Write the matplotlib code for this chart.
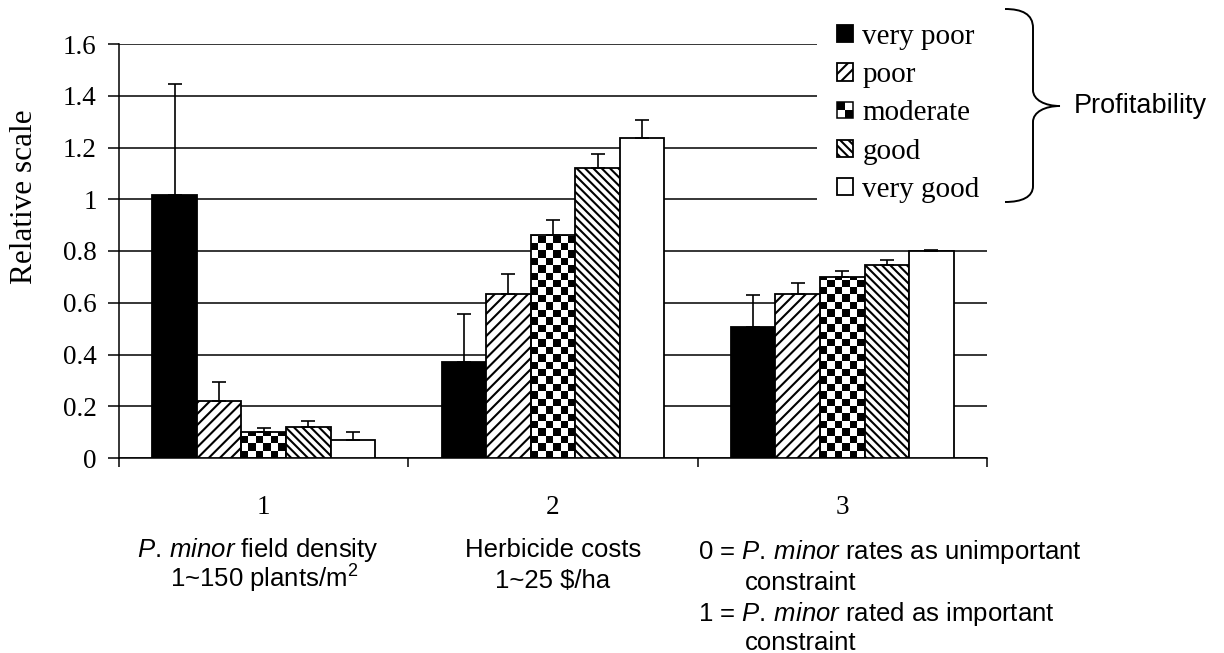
import numpy as np
import matplotlib
matplotlib.use("Agg")
import matplotlib.pyplot as plt
import matplotlib.transforms as mtransforms
from matplotlib.patches import Rectangle, PathPatch
from matplotlib.path import Path
from matplotlib.legend_handler import HandlerBase
from matplotlib.colors import ListedColormap

# ---- data -------------------------------------------------------------
categories = ["1", "2", "3"]
levels = ["very poor", "poor", "moderate", "good", "very good"]

very_poor = [1.015, 0.37, 0.505]
poor = [0.22, 0.635, 0.635]
moderate = [0.10, 0.86, 0.70]
good = [0.12, 1.12, 0.745]
very_good = [0.07, 1.235, 0.80]

err_very_poor = [0.43, 0.185, 0.125]
err_poor = [0.075, 0.075, 0.04]
err_moderate = [0.017, 0.06, 0.022]
err_good = [0.022, 0.055, 0.02]
err_very_good = [0.031, 0.07, 0.005]

ytick_values = [0, 0.2, 0.4, 0.6, 0.8, 1.0, 1.2, 1.4, 1.6]
ytick_labels = ["0", "0.2", "0.4", "0.6", "0.8", "1", "1.2", "1.4", "1.6"]

# ---- style ------------------------------------------------------------
plt.rcParams["font.family"] = ["Liberation Serif", "DejaVu Serif"]
plt.rcParams["mathtext.fontset"] = "custom"
plt.rcParams["mathtext.rm"] = "Liberation Sans"
plt.rcParams["mathtext.it"] = "Liberation Sans:italic"
plt.rcParams["hatch.linewidth"] = 1.5

W, H = 1224, 653
fig = plt.figure(figsize=(W / 100, H / 100), dpi=100)
ax = fig.add_axes([119 / W, 1 - 458 / H, 868 / W, 414 / H])


def fpx(x, y):
    """Figure-pixel position (origin top-left) to figure fraction."""
    return x / W, 1 - y / H


series = [very_poor, poor, moderate, good, very_good]
errors = [err_very_poor, err_poor, err_moderate, err_good, err_very_good]
faces = ["black", "white", "none", "white", "white"]
hatches = [None, "///", None, "\\\\\\\\", None]

x = np.arange(len(categories))
bw = 0.154
offsets = (np.arange(len(levels)) - 2) * bw

containers = []
for i, (vals, errs) in enumerate(zip(series, errors)):
    bars = ax.bar(x + offsets[i], vals, width=bw, facecolor=faces[i],
                  edgecolor="black", linewidth=1.3, hatch=hatches[i],
                  zorder=3, label=levels[i])
    containers.append(bars)
    ax.errorbar(x + offsets[i], vals, yerr=[np.zeros(len(vals)), errs],
                fmt="none", ecolor="black", elinewidth=1.2, capsize=4.7,
                capthick=1.2, zorder=4)

# checkerboard fill for the "moderate" bars
checker_cmap = ListedColormap(["white", "black"])
sq_x = 7.4 / (868 / 3.0)
sq_y = 7.4 / (414 / 1.6)
for patch in containers[2].patches:
    x0 = patch.get_x()
    pw = patch.get_width()
    ph = patch.get_height()
    ncols = int(np.ceil(pw / sq_x))
    nrows = max(1, int(np.ceil(ph / sq_y)))
    ii, jj = np.indices((nrows, ncols))
    board = ((ii + jj) % 2 == 0).astype(float)
    im = ax.imshow(board, cmap=checker_cmap, vmin=0, vmax=1,
                   extent=(x0, x0 + ncols * sq_x, 0, nrows * sq_y),
                   origin="lower", interpolation="nearest", aspect="auto",
                   zorder=2)
    im.set_clip_path(patch)

# ---- axes -------------------------------------------------------------
ax.set_xlim(-0.5, 2.5)
ax.set_ylim(0, 1.6)
ax.set_yticks(ytick_values)
ax.set_yticklabels(ytick_labels, fontsize=19.5)
ax.set_xticks([-0.5, 0.5, 1.5, 2.5])
ax.set_xticklabels([])
ax.tick_params(axis="y", direction="out", length=8, width=1.1, pad=8)
ax.tick_params(axis="x", direction="out", length=6.5, width=1.1)
ax.yaxis.grid(True, color="black", linewidth=1.1)
ax.set_axisbelow(True)
for side in ("top", "right"):
    ax.spines[side].set_visible(False)
for side in ("left", "bottom"):
    ax.spines[side].set_linewidth(1.1)

fig.text(*fpx(25, 197), "Relative scale", rotation=90, ha="center",
         va="center", fontsize=22.5)

# category numbers and descriptions below the axis
blend = mtransforms.blended_transform_factory(ax.transData, fig.transFigure)
for xi, cat in zip(x, categories):
    ax.text(xi, 1 - 514 / H, cat, transform=blend, ha="center",
            va="baseline", fontsize=19.5)

sans = dict(family="Liberation Sans", fontsize=18.5, va="baseline")
ax.text(-0.02, 1 - 557 / H, r"$\mathit{P.\,minor}$ field density",
        transform=blend, ha="center", **sans)
ax.text(0, 1 - 588 / H, r"1~150 plants/m$^{\mathrm{2}}$",
        transform=blend, ha="center", **sans)
ax.text(1, 1 - 557 / H, "Herbicide costs", transform=blend, ha="center",
        **sans)
ax.text(1, 1 - 588 / H, r"1~25 \$/ha", transform=blend, ha="center", **sans)

fig.text(*fpx(698, 559), r"0 = $\mathit{P.\,minor}$ rates as unimportant",
         ha="left", **sans)
fig.text(*fpx(745, 590), "constraint", ha="left", **sans)
fig.text(*fpx(698, 621), r"1 = $\mathit{P.\,minor}$ rated as important",
         ha="left", **sans)
fig.text(*fpx(745, 650), "constraint", ha="left", **sans)


# ---- legend -----------------------------------------------------------
class HandlerChecker(HandlerBase):
    def create_artists(self, legend, orig_handle, xdescent, ydescent,
                       width, height, fontsize, trans):
        s = min(width, height)
        x0, y0 = -xdescent, -ydescent + (height - s) / 2
        h = s / 2
        arts = [Rectangle((x0, y0), s, s, facecolor="white",
                          edgecolor="none", transform=trans),
                Rectangle((x0, y0 + h), h, h, facecolor="black",
                          edgecolor="none", transform=trans),
                Rectangle((x0 + h, y0), h, h, facecolor="black",
                          edgecolor="none", transform=trans),
                Rectangle((x0, y0), s, s, facecolor="none",
                          edgecolor="black", linewidth=1.1,
                          transform=trans)]
        return arts


# white panel behind the legend interrupts the upper gridlines
ax.add_patch(Rectangle(fpx(817, 205), 175 / W, 205 / H,
                       transform=fig.transFigure, facecolor="white",
                       edgecolor="none", zorder=5, clip_on=False))

leg = ax.legend(handles=containers, labels=levels, loc="upper left",
                bbox_to_anchor=fpx(837, 24), bbox_transform=fig.transFigure,
                frameon=False, fontsize=21, borderpad=0, borderaxespad=0,
                handlelength=0.54, handleheight=0.54, handletextpad=0.33,
                labelspacing=0.42,
                handler_map={containers[2]: HandlerChecker()})
leg.set_zorder(6)

# curly brace grouping the legend entries
brace = [fpx(1005, 9), fpx(1022, 9), fpx(1033, 14), fpx(1033, 28),
         fpx(1033, 90),
         fpx(1033, 100), fpx(1045, 106), fpx(1060, 106),
         fpx(1045, 106), fpx(1033, 112), fpx(1033, 122),
         fpx(1033, 186),
         fpx(1033, 197), fpx(1022, 202), fpx(1005, 202)]
codes = [Path.MOVETO, Path.CURVE4, Path.CURVE4, Path.CURVE4,
         Path.LINETO,
         Path.CURVE4, Path.CURVE4, Path.CURVE4,
         Path.CURVE4, Path.CURVE4, Path.CURVE4,
         Path.LINETO,
         Path.CURVE4, Path.CURVE4, Path.CURVE4]
fig.patches.append(PathPatch(Path(brace, codes), facecolor="none",
                             edgecolor="black", linewidth=1.4,
                             transform=fig.transFigure))
fig.text(*fpx(1074, 106), "Profitability", family="Liberation Sans",
         fontsize=19.5, ha="left", va="center")

fig.savefig("out.png", dpi=100)
